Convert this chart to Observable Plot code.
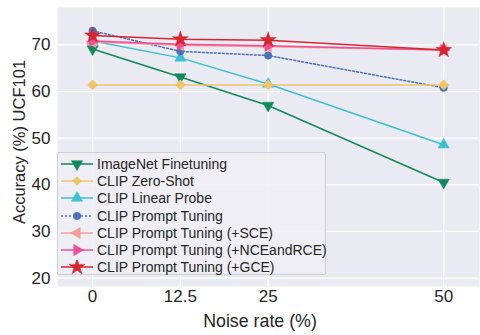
<!DOCTYPE html>
<html>
<head>
<meta charset="utf-8">
<script src="https://cdn.jsdelivr.net/npm/d3@7"></script>
<script src="https://cdn.jsdelivr.net/npm/@observablehq/plot@0.6"></script>
<style>
  html, body { margin: 0; padding: 0; background: #fff; }
  #wrap { position: relative; width: 480px; height: 335px; font-family: "Liberation Sans", Arial, sans-serif; }
  #legend { position: absolute; left: 57px; top: 152px; width: 269px; height: 123px; background: rgba(238,238,244,0.9);
    border: 1px solid #cfcfd4; border-radius: 2px; box-sizing: border-box; padding-top: 2px; }
  .row { display: flex; align-items: center; height: 17.3px; font-size: 14px; color: #262626; white-space: nowrap; }
  .row svg { margin-left: 2px; margin-right: 3px; flex: none; }
  .axlab { position: absolute; color: #262626; white-space: nowrap; line-height: 1; }
  #xlab { font-size: 17.8px; left: 260px; top: 313px; transform: translateX(-50%); }
  #ylab { font-size: 16.5px; left: 19px; top: 142px; transform: translate(-50%, -50%) rotate(-90deg); }
</style>
</head>
<body>
<div id="wrap"></div>
<script>
const noise = [0, 12.5, 25, 50];
const xTicks = [0, 12.5, 25, 50];
const yTicks = [20, 30, 40, 50, 60, 70];
const xLabel = "Noise rate (%)";
const yLabel = "Accuracy (%) UCF101";
const seriesNames = [
  "ImageNet Finetuning",
  "CLIP Zero-Shot",
  "CLIP Linear Probe",
  "CLIP Prompt Tuning",
  "CLIP Prompt Tuning (+SCE)",
  "CLIP Prompt Tuning (+NCEandRCE)",
  "CLIP Prompt Tuning (+GCE)"
];
const imagenet = [69.1, 63.1, 57.0, 40.5];
const zeroShot = [61.4, 61.4, 61.4, 61.4];
const linearProbe = [70.8, 67.2, 61.6, 48.6];
const promptTuning = [73.0, 68.6, 67.7, 60.8];
const sce = [70.6, 69.9, 69.6, 68.9];
const nceRce = [70.8, 70.1, 69.8, 68.9];
const gce = [72.0, 71.2, 71.0, 68.9];

const values = [imagenet, zeroShot, linearProbe, promptTuning, sce, nceRce, gce];
const colors = ["#11895b", "#efc56a", "#3ec0d2", "#4a72b8", "#f59d99", "#ec4f98", "#d7262f"];
const symbols = ["triangle", "diamond2", "triangle", "circle", "triangle", "triangle", "star"];
const rotations = [180, 0, 0, 0, 270, 90, 0];
const dashes = [null, null, null, "2,2", null, null, null];
const radii = [4.2, 4.6, 4.2, 3.8, 4.2, 4.2, 5];

const drawOrder = [0, 2, 3, 1, 4, 5, 6];

const rows = [];
seriesNames.forEach((name, i) => {
  noise.forEach((n, j) => rows.push({series: name, idx: i, x: n, y: values[i][j]}));
});

const marks = [
  Plot.frame({fill: "#eaeaf2", stroke: null}),
  Plot.ruleX(xTicks, {stroke: "#fff", strokeWidth: 1.2}),
  Plot.ruleY(yTicks, {stroke: "#fff", strokeWidth: 1.2}),
];
drawOrder.forEach(i => {
  const d = rows.filter(r => r.idx === i);
  marks.push(Plot.line(d, {x: "x", y: "y", stroke: colors[i], strokeWidth: 1.5, strokeDasharray: dashes[i]}));
  marks.push(Plot.dot(d, {x: "x", y: "y", fill: colors[i], stroke: colors[i], strokeWidth: 0.5, symbol: () => symbols[i], r: radii[i], rotate: rotations[i]}));
});

const chart = Plot.plot({
  width: 480,
  height: 335,
  marginLeft: 57,
  marginRight: 1,
  marginTop: 7,
  marginBottom: 49,
  style: {fontFamily: "Liberation Sans, Arial, sans-serif", fontSize: "17px", color: "#262626", background: "#fff"},
  x: {domain: [-5, 55.1], ticks: xTicks, tickFormat: d => String(d), tickSize: 0, tickPadding: 3, label: null},
  y: {domain: [18.2, 78], ticks: yTicks, tickSize: 0, tickPadding: 7, label: null},
  marks
});
const wrap = document.getElementById("wrap");
wrap.appendChild(chart);

const xl = document.createElement("div"); xl.className = "axlab"; xl.id = "xlab"; xl.textContent = xLabel; wrap.appendChild(xl);
const yl = document.createElement("div"); yl.className = "axlab"; yl.id = "ylab"; yl.textContent = yLabel; wrap.appendChild(yl);

// legend overlay
const legend = document.createElement("div");
legend.id = "legend";
seriesNames.forEach((name, i) => {
  const row = document.createElement("div");
  row.className = "row";
  const svg = d3.create("svg").attr("width", 34).attr("height", 14);
  svg.append("line").attr("x1", 1).attr("x2", 33).attr("y1", 7).attr("y2", 7)
    .attr("stroke", colors[i]).attr("stroke-width", 1.5).attr("stroke-dasharray", dashes[i]);
  const symMap = {triangle: d3.symbolTriangle, diamond2: d3.symbolSquare, circle: d3.symbolCircle, star: d3.symbolStar};
  const rot = symbols[i] === "diamond2" ? 45 : rotations[i];
  svg.append("path").attr("d", d3.symbol(symMap[symbols[i]], Math.PI * radii[i] * radii[i] * (symbols[i]==="diamond2"?0.6:1))())
    .attr("transform", `translate(17,7) rotate(${rot})`).attr("fill", colors[i]).attr("stroke", colors[i]).attr("stroke-width", 0.5);
  row.appendChild(svg.node());
  const t = document.createElement("span");
  t.textContent = name;
  row.appendChild(t);
  legend.appendChild(row);
});
wrap.appendChild(legend);
</script>
</body>
</html>
